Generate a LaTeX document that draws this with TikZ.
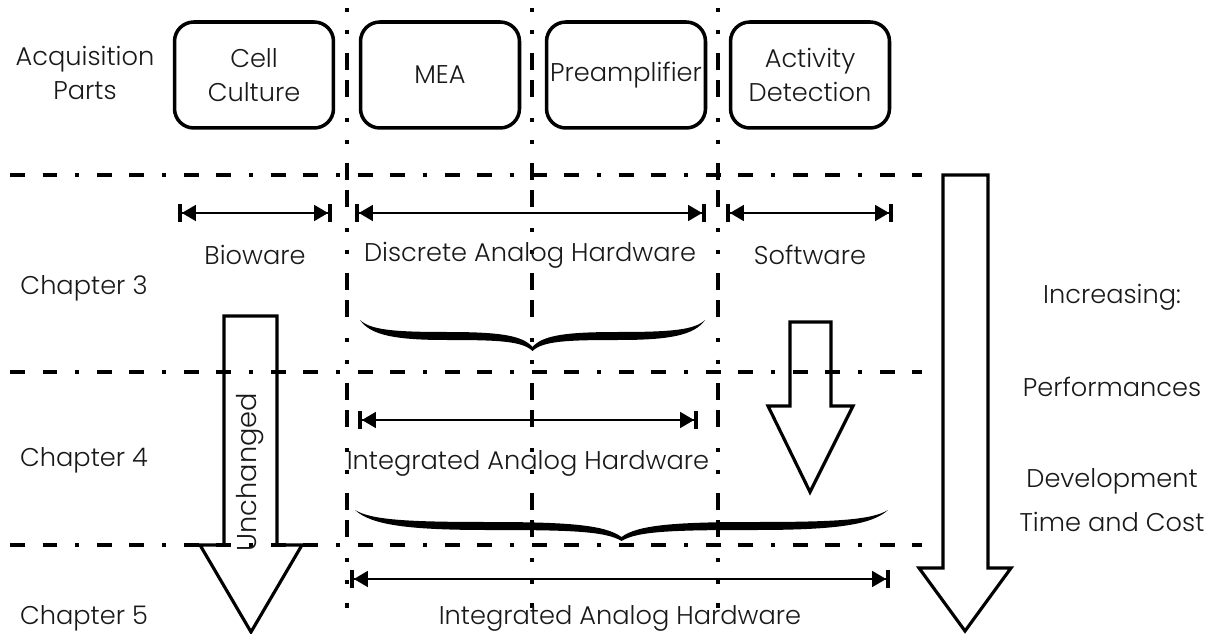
\documentclass[tikz,border=0pt]{standalone}
\usepackage{fontspec}
\setmainfont{Poppins Light}
\usetikzlibrary{arrows.meta}

\begin{document}
\begin{tikzpicture}[x=0.02cm, y=-0.02cm,
	every node/.style={font=\fontsize{14.6}{19}\selectfont, text=black!90},
	part/.style={draw, line width=2pt, rounded corners=11pt, align=center,
		minimum width=3.18cm, minimum height=2.12cm, inner sep=1pt},
	rowline/.style={line width=2pt,
		dash pattern=on 8.5pt off 10pt on 8.5pt off 10pt on 2.5pt off 10pt},
	colline/.style={line width=2pt,
		dash pattern=on 2.3pt off 10pt on 2.3pt off 11pt on 9.5pt off 6pt on 9.5pt off 12pt},
	span/.style={line width=1.3pt,
		{Bar[width=10pt,line width=2.2pt]Triangle[length=8pt,width=9pt]}-{Triangle[length=8pt,width=9pt]Bar[width=10pt,line width=2.2pt]}},
	bigarrow/.style={draw, line width=1.8pt, line join=miter},
	curlybrace/.pic={
		\fill (0,0) .. controls (3,10) and (10,12) .. (25,12)
			.. controls (40,12) and (47,15) .. (50,27)
			.. controls (53,15) and (60,12) .. (75,12)
			.. controls (90,12) and (97,10) .. (100,0)
			.. controls (97,15) and (90,20) .. (75,20)
			.. controls (60,20) and (53,21) .. (50,31)
			.. controls (47,21) and (40,20) .. (25,20)
			.. controls (10,20) and (3,15) .. (0,0) -- cycle;
	}]

	\useasboundingbox (0,0) rectangle (1229,634);

	% ---- coordinates

	\coordinate (V1a) at (347,8);   \coordinate (V1b) at (347,608);
	\coordinate (V2a) at (532,8);   \coordinate (V2b) at (532,608);
	\coordinate (V3a) at (718,8);   \coordinate (V3b) at (718,608);

	\coordinate (H1a) at (10,175);  \coordinate (H1b) at (922,175);
	\coordinate (H2a) at (10,372);  \coordinate (H2b) at (922,372);
	\coordinate (H3a) at (10,545);  \coordinate (H3b) at (922,545);

	\coordinate (S1a) at (178,213); \coordinate (S1b) at (332,213);
	\coordinate (S2a) at (355,213); \coordinate (S2b) at (706,213);
	\coordinate (S3a) at (726,213); \coordinate (S3b) at (893,213);
	\coordinate (S4a) at (358,420); \coordinate (S4b) at (698,420);
	\coordinate (S5a) at (350,579); \coordinate (S5b) at (890,579);

	% ---- grid lines

	\foreach \i in {1,2,3} { \draw[colline] (V\i a) -- (V\i b); }
	\foreach \i in {1,2,3} { \draw[rowline] (H\i a) -- (H\i b); }

	% ---- acquisition parts

	\node[align=center] (acq) at (85,73) {Acquisition\\Parts};

	\node[part] (cell)   at (254,75) {Cell\\Culture};
	\node[part] (mea)    at (440,75) {MEA};
	\node[part] (preamp) at (626,75) {Preamplifier};
	\node[part] (detect) at (810,75) {Activity\\Detection};

	% ---- chapters

	\node (ch3) at (84,288) {Chapter 3};
	\node (ch4) at (84,460) {Chapter 4};
	\node (ch5) at (84,618) {Chapter 5};

	% ---- spans

	\foreach \i in {1,...,5} { \draw[span] (S\i a) -- (S\i b); }

	\node (bio)  at (255,255) {Bioware};
	\node (dah)  at (530,255) {Discrete Analog Hardware};
	\node (soft) at (810,255) {Software};
	\node (iah)  at (528,463) {Integrated Analog Hardware};
	\node (iah2) at (620,618) {Integrated Analog Hardware};

	% ---- braces

	\pic[xscale=3.45] at (360,320) {curlybrace};
	\pic[xscale=5.33] at (355,510) {curlybrace};

	% ---- block arrows

	\draw[bigarrow] (224,316) -- (277,316) -- (277,545) -- (302,545)
		-- (251,632) -- (200,545) -- (224,545) -- cycle;
	\node[rotate=90, font=\fontsize{15.5}{19}\selectfont] (unch) at (250,472) {Unchanged};

	\draw[bigarrow] (790,322) -- (831,322) -- (831,406) -- (853,406)
		-- (810,492) -- (768,406) -- (790,406) -- cycle;

	\draw[bigarrow] (943,175) -- (988,175) -- (988,568) -- (1011,568)
		-- (965,631) -- (919,568) -- (943,568) -- cycle;

	% ---- increasing

	\node (inc)  at (1112,297) {Increasing:};
	\node (perf) at (1112,387) {Performances};
	\node[align=center, font=\fontsize{14.6}{25}\selectfont] (dev) at (1112,500)
		{Development\\Time and Cost};

\end{tikzpicture}
\end{document}
